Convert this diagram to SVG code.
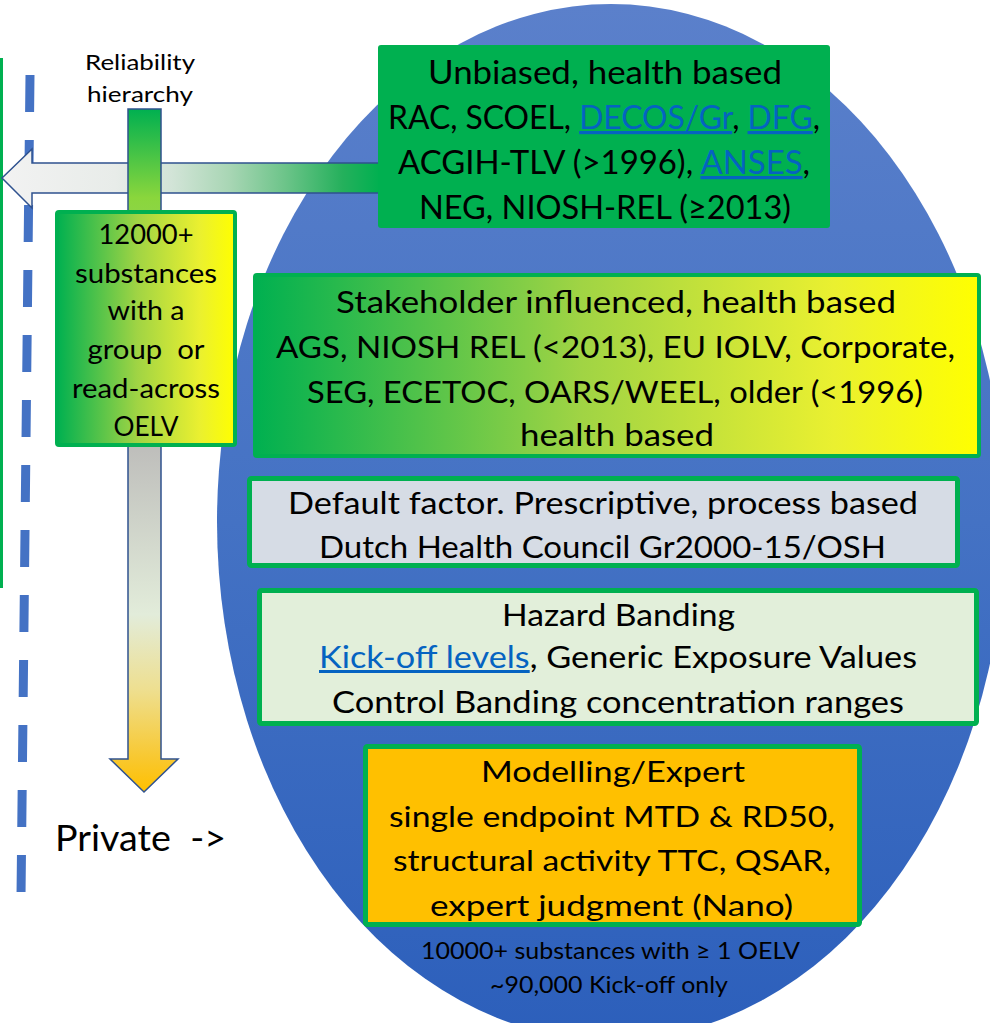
<svg xmlns="http://www.w3.org/2000/svg" width="990" height="1023" viewBox="0 0 990 1023">
  <defs>
    <linearGradient id="gEll" x1="0" y1="0" x2="0" y2="1">
      <stop offset="0" stop-color="#5b80cb"/>
      <stop offset="0.5" stop-color="#4472c4"/>
      <stop offset="1" stop-color="#2c5fbb"/>
    </linearGradient>
    <linearGradient id="gHArrow" gradientUnits="userSpaceOnUse" x1="2" y1="0" x2="380" y2="0">
      <stop offset="0" stop-color="#f2f2f2"/>
      <stop offset="0.3" stop-color="#e8ece9"/>
      <stop offset="0.45" stop-color="#d2e4d7"/>
      <stop offset="0.6" stop-color="#a9d6b5"/>
      <stop offset="0.75" stop-color="#6cc489"/>
      <stop offset="0.9" stop-color="#25b05c"/>
      <stop offset="1" stop-color="#00b050"/>
    </linearGradient>
    <linearGradient id="gVArrow" gradientUnits="userSpaceOnUse" x1="0" y1="109" x2="0" y2="792">
      <stop offset="0" stop-color="#00b050"/>
      <stop offset="0.13" stop-color="#8ad63c"/>
      <stop offset="0.5" stop-color="#bfbfbc"/>
      <stop offset="0.74" stop-color="#e2ecda"/>
      <stop offset="0.85" stop-color="#eedf90"/>
      <stop offset="0.95" stop-color="#f8c830"/>
      <stop offset="1" stop-color="#ffc000"/>
    </linearGradient>
    <linearGradient id="gGY" x1="0" y1="0" x2="1" y2="0">
      <stop offset="0" stop-color="#00b050"/>
      <stop offset="0.45" stop-color="#a0d444"/>
      <stop offset="0.8" stop-color="#eaf030"/>
      <stop offset="1" stop-color="#ffff00"/>
    </linearGradient>
  </defs>
  <style>
    text { font-family: Lato, "Liberation Sans", sans-serif; fill: #000; text-anchor: middle; }
    .box { stroke: #00b050; }
    .arrow { stroke: #2f528f; stroke-width: 1.5; stroke-linejoin: miter; }
    .lnk { fill: #0563c1; text-decoration: underline; }
    .t32 { font-size: 32px; }
    .t30 { font-size: 30px; }
    .t29 { font-size: 29px; }
    .t27 { font-size: 27px; }
    .t23 { font-size: 23px; }
    .t22 { font-size: 22px; }
  </style>

  <g id="ellipse">
    <ellipse cx="611" cy="522" rx="394" ry="518" fill="url(#gEll)"/>
  </g>

  <g id="boundary-lines">
    <line x1="30" y1="75" x2="21" y2="896" stroke="#4472c4" stroke-width="9" stroke-dasharray="37 28"/>
    <line x1="1.5" y1="58" x2="1.5" y2="588" stroke="#00b050" stroke-width="3"/>
  </g>

  <g id="connectors">
    <polygon class="arrow" fill="url(#gHArrow)" points="2,178 32,149 32,163 400,163 400,193 32,193 32,208"/>
    <polygon class="arrow" fill="url(#gVArrow)" points="128,109 161,109 161,759 178,759 144,792 110,759 128,759"/>
  </g>

  <g id="label-reliability">
    <text class="t22" x="140" y="70" textLength="110" lengthAdjust="spacingAndGlyphs">Reliability</text>
    <text class="t22" x="140" y="102" textLength="106" lengthAdjust="spacingAndGlyphs">hierarchy</text>
  </g>

  <g id="node-unbiased">
    <rect x="378" y="45" width="452" height="183" rx="3" fill="#00b050"/>
    <text class="t32" x="605" y="84" textLength="354" lengthAdjust="spacingAndGlyphs">Unbiased, health based</text>
    <text class="t32" x="604" y="129" textLength="432" lengthAdjust="spacingAndGlyphs">RAC, SCOEL, <tspan class="lnk">DECOS/Gr</tspan>, <tspan class="lnk">DFG</tspan>,</text>
    <text class="t32" x="604" y="174" textLength="412" lengthAdjust="spacingAndGlyphs">ACGIH-TLV (&gt;1996), <tspan class="lnk">ANSES</tspan>,</text>
    <text class="t32" x="605" y="219" textLength="372" lengthAdjust="spacingAndGlyphs">NEG, NIOSH-REL (≥2013)</text>
  </g>

  <g id="node-12000">
    <rect class="box" x="57" y="212" width="178" height="233" rx="2" fill="url(#gGY)" stroke-width="4"/>
    <text class="t27" x="146" y="244" textLength="95" lengthAdjust="spacingAndGlyphs">12000+</text>
    <text class="t27" x="146" y="283" textLength="142" lengthAdjust="spacingAndGlyphs">substances</text>
    <text class="t27" x="146" y="320" textLength="77" lengthAdjust="spacingAndGlyphs">with a</text>
    <text class="t27" x="146" y="359" textLength="117" lengthAdjust="spacingAndGlyphs" xml:space="preserve">group  or</text>
    <text class="t27" x="146" y="398" textLength="148" lengthAdjust="spacingAndGlyphs">read-across</text>
    <text class="t27" x="146" y="436" textLength="65" lengthAdjust="spacingAndGlyphs">OELV</text>
  </g>

  <g id="node-stakeholder">
    <rect class="box" x="255" y="275" width="724" height="181" rx="2" fill="url(#gGY)" stroke-width="4"/>
    <text class="t30" x="616" y="313" textLength="560" lengthAdjust="spacingAndGlyphs">Stakeholder influenced, health based</text>
    <text class="t30" x="615.5" y="358" textLength="679" lengthAdjust="spacingAndGlyphs">AGS, NIOSH REL (&lt;2013), EU IOLV, Corporate,</text>
    <text class="t30" x="615" y="403" textLength="616" lengthAdjust="spacingAndGlyphs">SEG, ECETOC, OARS/WEEL, older (&lt;1996)</text>
    <text class="t30" x="617" y="446" textLength="194" lengthAdjust="spacingAndGlyphs">health based</text>
  </g>

  <g id="node-default">
    <rect class="box" x="249.5" y="478.5" width="708" height="87" rx="2" fill="#d6dce5" stroke-width="5"/>
    <text class="t30" x="603" y="514" textLength="630" lengthAdjust="spacingAndGlyphs">Default factor. Prescriptive, process based</text>
    <text class="t30" x="602.5" y="558" textLength="567" lengthAdjust="spacingAndGlyphs">Dutch Health Council Gr2000-15/OSH</text>
  </g>

  <g id="node-hazard">
    <rect class="box" x="259.5" y="590.5" width="717" height="133" rx="2" fill="#e2efda" stroke-width="5"/>
    <text class="t30" x="618.5" y="626" textLength="233" lengthAdjust="spacingAndGlyphs">Hazard Banding</text>
    <text class="t30" x="618" y="668" textLength="598" lengthAdjust="spacingAndGlyphs"><tspan class="lnk">Kick-off levels</tspan>, Generic Exposure Values</text>
    <text class="t30" x="618" y="713" textLength="572" lengthAdjust="spacingAndGlyphs">Control Banding concentration ranges</text>
  </g>

  <g id="node-modelling">
    <rect class="box" x="365.5" y="746.5" width="494" height="178" rx="2" fill="#ffc000" stroke-width="5"/>
    <text class="t29" x="613" y="782" textLength="264" lengthAdjust="spacingAndGlyphs">Modelling/Expert</text>
    <text class="t29" x="612" y="827" textLength="446" lengthAdjust="spacingAndGlyphs">single endpoint MTD &amp; RD50,</text>
    <text class="t29" x="612" y="871" textLength="438" lengthAdjust="spacingAndGlyphs">structural activity TTC, QSAR,</text>
    <text class="t29" x="611.5" y="916" textLength="363" lengthAdjust="spacingAndGlyphs">expert judgment (Nano)</text>
  </g>

  <g id="label-counts">
    <text class="t23" x="610.5" y="959" textLength="379" lengthAdjust="spacingAndGlyphs">10000+ substances with ≥ 1 OELV</text>
    <text class="t23" x="609" y="993" textLength="238" lengthAdjust="spacingAndGlyphs">~90,000 Kick-off only</text>
  </g>

  <g id="label-private">
    <text x="55" y="851" style="font-size:36px; text-anchor:start" textLength="171" lengthAdjust="spacingAndGlyphs" xml:space="preserve">Private  -&gt;</text>
  </g>
</svg>
